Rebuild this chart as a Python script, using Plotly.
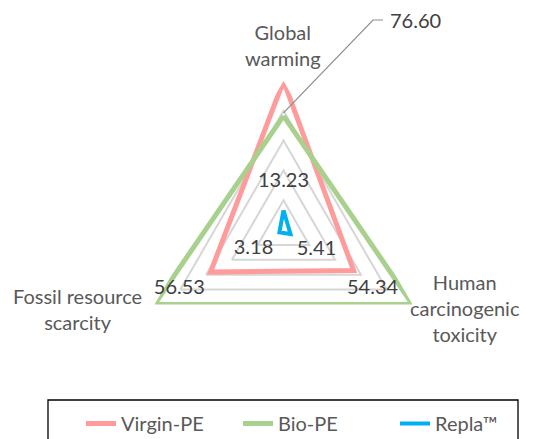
import plotly.graph_objects as go

# ---- data ----
categories = ["Global warming", "Human carcinogenic toxicity", "Fossil resource scarcity"]
virgin_pe = [100.0, 54.34, 56.53]
bio_pe = [76.60, 100.0, 100.0]
repla = [13.23, 5.41, 3.18]
series_names = ["Virgin-PE", "Bio-PE", "Repla™"]
grid_levels = [20, 40, 60, 80, 100]

# label texts shown on the chart
label_texts = ["13.23", "5.41", "3.18", "56.53", "54.34"]

# ---- styling / positioning (not data) ----
W, H = 536, 439
CX, CY, R = 283.5, 230.0, 149.0   # radar centre and outer radius in px
colors = ["#FF9B9B", "#A9D18E", "#00B0F0"]
widths = [5, 5, 4]
FONT = "Lato"
GREY = "#595959"
DARK = "#404040"

# label positions on an overlay polar (r in % of scale, theta clockwise deg from top)
label_r = [32.2, 25.9, 23.8, 80.3, 71.7]
label_theta = [0, 121.2, 237.7, 240.5, 123.5]


def fx(px):
    return px / W


def fy(py):
    return (H - py) / H


fig = go.Figure()


def closed(v):
    return list(v) + [v[0]]


for name, vals, col, w in zip(series_names, [virgin_pe, bio_pe, repla], colors, widths):
    fig.add_trace(go.Scatterpolar(
        r=closed(vals), theta=closed(categories), mode="lines", name=name,
        line=dict(color=col, width=w), subplot="polar", hoverinfo="skip",
    ))

fig.add_trace(go.Scatterpolar(
    r=label_r, theta=label_theta, mode="text", text=label_texts,
    textposition="middle center",
    textfont=dict(family=FONT, size=20, color=DARK), showlegend=False,
    subplot="polar2", cliponaxis=False, hoverinfo="skip",
))

dom_x = [fx(CX - R), fx(CX + R)]
dom_y = [fy(CY + R), fy(CY - R)]

fig.update_layout(
    width=W, height=H,
    margin=dict(l=0, r=0, t=0, b=0, autoexpand=False),
    paper_bgcolor="white",
    showlegend=True,
    polar=dict(
        domain=dict(x=dom_x, y=dom_y),
        bgcolor="rgba(0,0,0,0)",
        gridshape="linear",
        radialaxis=dict(range=[0, 100], tickvals=grid_levels, showticklabels=False,
                        showline=False, ticks="", gridcolor="#D6D6D6", gridwidth=1.7),
        angularaxis=dict(type="category", direction="clockwise", rotation=90,
                         showticklabels=False, ticks="", showgrid=False,
                         showline=False),
    ),
    polar2=dict(
        domain=dict(x=dom_x, y=dom_y),
        bgcolor="rgba(0,0,0,0)",
        radialaxis=dict(range=[0, 100], visible=False),
        angularaxis=dict(direction="clockwise", rotation=90, visible=False,
                         thetaunit="degrees"),
    ),
    legend=dict(
        orientation="h", x=fx(81), y=fy(404), xanchor="left", yanchor="top",
        borderwidth=0, bgcolor="rgba(0,0,0,0)",
        font=dict(family=FONT, size=20, color=GREY),
        entrywidth=112, entrywidthmode="pixels", itemwidth=30,
    ),
)

# legend frame
fig.add_shape(type="rect", xref="paper", yref="paper",
              x0=fx(48), x1=fx(518), y0=fy(460), y1=fy(400),
              line=dict(color="#000000", width=1.3), fillcolor="rgba(0,0,0,0)",
              layer="below")

# leader line for the Bio-PE global-warming value
apex_y = CY - bio_pe[0] / 100.0 * R
fig.add_shape(type="path", xref="paper", yref="paper",
              path=f"M {fx(CX)},{fy(apex_y - 3)} L {fx(373)},{fy(20)} L {fx(383)},{fy(20)}",
              line=dict(color="#8C8C8C", width=1.2))
fig.add_annotation(text=f"{bio_pe[0]:.2f}", x=fx(388), y=fy(20), xref="paper", yref="paper",
                   xanchor="left", yanchor="middle", showarrow=False,
                   font=dict(family=FONT, size=20, color=DARK))

cat_labels = [
    ("Global<br>warming", 283, 45),
    ("Fossil resource<br>scarcity", 77, 308.5),
    ("Human<br>carcinogenic<br>toxicity", 465, 308),
]
for txt, px, py in cat_labels:
    fig.add_annotation(
        text=txt, x=fx(px), y=fy(py), xref="paper", yref="paper",
        xanchor="center", yanchor="middle", showarrow=False, align="center",
        font=dict(family=FONT, size=20, color=GREY),
    )

fig.write_html("out.html", config={"displayModeBar": False},
               post_script="document.body.style.margin='0';")
